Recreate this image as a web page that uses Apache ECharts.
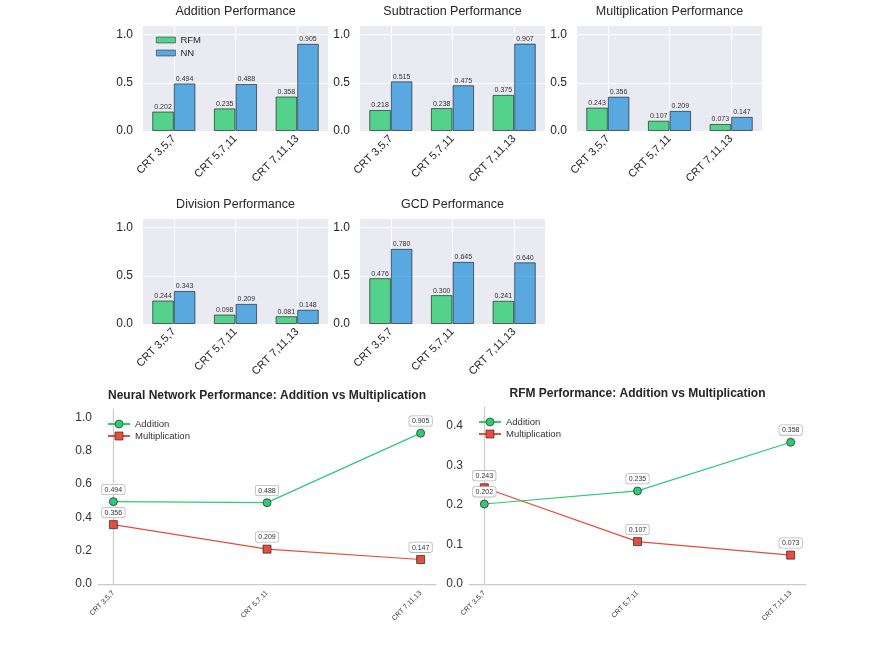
<!DOCTYPE html>
<html lang="en">
<head>
<meta charset="UTF-8">
<title>CRT Performance</title>
<script src="https://cdn.jsdelivr.net/npm/echarts@6/dist/echarts.min.js"></script>
<style>
    body, html { padding: 0; margin: 0; background: #fff; }
</style>
</head>
<body>
<div id="chart" style="width:893px;height:649px;"></div>
<script>
// data
var categories = ['CRT 3,5,7', 'CRT 5,7,11', 'CRT 7,11,13'];

var additionRFM = [0.202, 0.235, 0.358];
var additionNN = [0.494, 0.488, 0.905];
var subtractionRFM = [0.218, 0.238, 0.375];
var subtractionNN = [0.515, 0.475, 0.907];
var multiplicationRFM = [0.243, 0.107, 0.073];
var multiplicationNN = [0.356, 0.209, 0.147];
var divisionRFM = [0.244, 0.098, 0.081];
var divisionNN = [0.343, 0.209, 0.148];
var gcdRFM = [0.476, 0.300, 0.241];
var gcdNN = [0.780, 0.645, 0.640];

var panelTitles = ['Addition Performance', 'Subtraction Performance', 'Multiplication Performance',
    'Division Performance', 'GCD Performance'];
var panelRFM = [additionRFM, subtractionRFM, multiplicationRFM, divisionRFM, gcdRFM];
var panelNN = [additionNN, subtractionNN, multiplicationNN, divisionNN, gcdNN];

// layout
var FONT = '"Liberation Sans", Arial, sans-serif';
var GREEN = '#2ecc71', BLUE = '#3498db', RED = '#e74c3c';
var barBoxes = [[143, 25], [360, 25], [577, 25], [143, 218], [360, 218]];
var BW = 185, BH = 106;

var chart = echarts.init(document.getElementById('chart'));

var grids = [], xAxes = [], yAxes = [], series = [], titles = [], legends = [];

function fmt3(p) { return Number(p.value instanceof Array ? p.value[1] : p.value).toFixed(3); }

panelTitles.forEach(function (t, i) {
    var box = barBoxes[i];
    grids.push({
        left: box[0], top: box[1], width: BW, height: BH,
        show: true, backgroundColor: '#eaeaf2', borderWidth: 0
    });
    titles.push({
        text: t, left: box[0] + BW / 2, top: box[1] - 20, textAlign: 'center', padding: 0,
        textStyle: { fontFamily: FONT, fontSize: 12.5, fontWeight: 'normal', color: '#262626' }
    });
    xAxes.push({
        type: 'category', gridIndex: i, data: categories,
        axisLine: { show: false }, axisTick: { show: false },
        axisLabel: { rotate: 45, fontSize: 11, color: '#262626', fontFamily: FONT, margin: 6, interval: 0 },
        splitLine: { show: false }
    });
    yAxes.push({
        type: 'value', gridIndex: i, min: 0, max: 1.1, interval: 0.5,
        axisLine: { show: false }, axisTick: { show: false },
        axisLabel: {
            fontSize: 12, color: '#262626', fontFamily: FONT, margin: 10,
            formatter: function (v) { return Math.abs(v * 2 - Math.round(v * 2)) < 1e-6 ? v.toFixed(1) : ''; }
        },
        splitLine: { show: true, lineStyle: { color: '#fff', width: 1 } }
    });
    // vertical white grid lines at the category ticks
    series.push({
        type: 'line', name: 'grid' + i, xAxisIndex: i, yAxisIndex: i, data: [], silent: true,
        markLine: {
            silent: true, symbol: 'none', z: 1, animation: false,
            label: { show: false },
            lineStyle: { color: '#fff', width: 1, type: 'solid' },
            data: categories.map(function (c) { return { xAxis: c }; })
        }
    });
    var barLabel = {
        show: true, position: 'top', distance: 1, fontSize: 7, color: '#333',
        fontFamily: FONT, formatter: fmt3
    };
    series.push({
        type: 'bar', name: 'RFM', xAxisIndex: i, yAxisIndex: i, data: panelRFM[i],
        barWidth: 21.6, barGap: '0%',
        itemStyle: { color: 'rgba(46,204,113,0.8)', borderColor: 'rgba(0,0,0,0.55)', borderWidth: 1 },
        label: barLabel
    });
    series.push({
        type: 'bar', name: 'NN', xAxisIndex: i, yAxisIndex: i, data: panelNN[i],
        barWidth: 21.6, barGap: '0%',
        itemStyle: { color: 'rgba(52,152,219,0.8)', borderColor: 'rgba(0,0,0,0.55)', borderWidth: 1 },
        label: barLabel
    });
});

legends.push({
    data: ['RFM', 'NN'], orient: 'vertical', left: 151, top: 30,
    icon: 'rect', itemWidth: 19, itemHeight: 6, itemGap: 3,
    itemStyle: { borderColor: 'rgba(0,0,0,0.55)', borderWidth: 0.8 },
    textStyle: { fontSize: 9.5, color: '#262626', fontFamily: FONT }
});

// line panels
var lineBoxes = [
    { left: 98, top: 409, width: 338, height: 175, max: 1.05, step: 0.2,
      title: 'Neural Network Performance: Addition vs Multiplication', add: additionNN, mul: multiplicationNN },
    { left: 469, top: 407, width: 337, height: 177, max: 0.447, step: 0.1,
      title: 'RFM Performance: Addition vs Multiplication', add: additionRFM, mul: multiplicationRFM }
];

lineBoxes.forEach(function (b, k) {
    var gi = grids.length;
    grids.push({ left: b.left, top: b.top, width: b.width, height: b.height });
    titles.push({
        text: b.title, left: b.left + b.width / 2, top: b.top - 19, textAlign: 'center', padding: 0,
        textStyle: { fontFamily: FONT, fontSize: 12, fontWeight: 'bold', color: '#262626' }
    });
    xAxes.push({
        type: 'value', gridIndex: gi, min: -0.1, max: 2.1,
        axisLine: { show: true, onZero: false, lineStyle: { color: '#cccccc', width: 1.25 } },
        axisTick: { show: false },
        splitLine: { show: false },
        axisLabel: {
            customValues: [0, 1, 2], rotate: 45, fontSize: 7, color: '#333', fontFamily: FONT, margin: 8,
            formatter: function (v) { return categories[Math.round(v)]; }
        }
    });
    var step = b.step;
    yAxes.push({
        type: 'value', gridIndex: gi, min: 0, max: b.max, interval: step,
        axisLine: { show: true, lineStyle: { color: '#cccccc', width: 1.25 } },
        axisTick: { show: false },
        splitLine: { show: false },
        axisLabel: {
            fontSize: 12, color: '#333', fontFamily: FONT, margin: 6,
            formatter: function (v) { return Math.abs(v / step - Math.round(v / step)) < 1e-6 ? v.toFixed(1) : ''; }
        }
    });
    var lbl = {
        show: true, position: 'top', distance: 3, fontSize: 7, color: '#333', fontFamily: FONT,
        backgroundColor: '#fff', borderColor: '#b8b8b8', borderWidth: 0.8, borderRadius: 2,
        padding: [1.5, 2.5, 1, 2.5], formatter: fmt3
    };
    series.push({
        type: 'line', name: 'Addition', xAxisIndex: gi, yAxisIndex: gi,
        data: b.add.map(function (v, i) { return [i, v]; }),
        symbol: 'circle', symbolSize: 8,
        lineStyle: { color: GREEN, width: 1.2 },
        itemStyle: { color: GREEN, borderColor: '#333', borderWidth: 0.8 },
        label: lbl, z: 3
    });
    series.push({
        type: 'line', name: 'Multiplication', xAxisIndex: gi, yAxisIndex: gi,
        data: b.mul.map(function (v, i) { return [i, v]; }),
        symbol: 'rect', symbolSize: 8,
        lineStyle: { color: RED, width: 1.2 },
        itemStyle: { color: RED, borderColor: '#333', borderWidth: 0.8 },
        label: lbl, z: 2
    });
    legends.push({
        data: ['Addition', 'Multiplication'], orient: 'vertical',
        left: b.left + 4, top: b.top + 5,
        itemWidth: 22, itemHeight: 10, itemGap: 2,
        itemStyle: { borderColor: '#333', borderWidth: 0.7 },
        textStyle: { fontSize: 9.5, color: '#333', fontFamily: FONT }
    });
});

chart.setOption({
    animation: false,
    title: titles,
    legend: legends,
    grid: grids,
    xAxis: xAxes,
    yAxis: yAxes,
    series: series
});
</script>
</body>
</html>
